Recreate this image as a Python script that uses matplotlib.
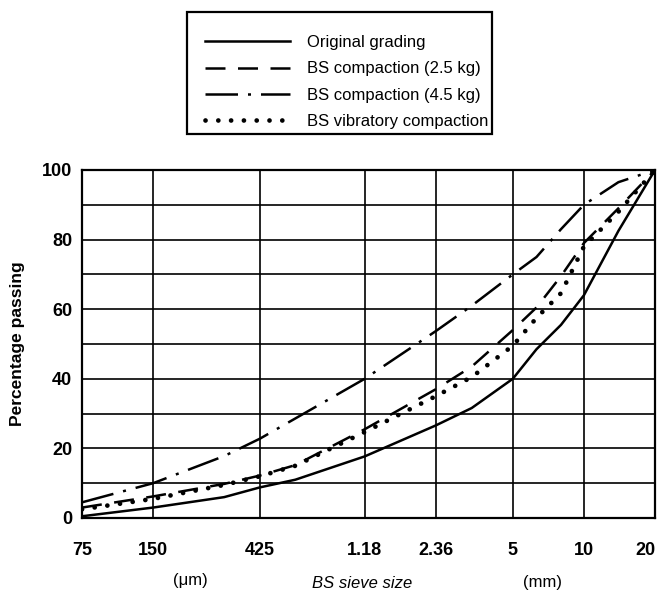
"""BS sieve grading curves: original vs. after compaction."""

import matplotlib
matplotlib.use("Agg")
import matplotlib.pyplot as plt
from matplotlib.patches import Rectangle

plt.rcParams['font.family'] = ['Liberation Sans', 'DejaVu Sans']

# sieve sizes in mm (75 um .. 20 mm), with a few intermediate readings
sieve_mm = [0.075, 0.15, 0.3, 0.425, 0.6, 1.18, 2.36, 3.35, 5.0, 6.3, 8.0, 10.0, 14.0, 20.0]
tick_mm = [0.075, 0.15, 0.425, 1.18, 2.36, 5.0, 10.0, 20.0]
tick_labels = ['75', '150', '425', '1.18', '2.36', '5', '10', '20']

# percentage passing
original = [0.5, 3.0, 6.0, 8.8, 11.0, 17.7, 26.6, 31.6, 40.0, 48.5, 55.5, 64.0, 82.5, 100.0]
bs_25kg = [3.0, 6.2, 9.8, 12.2, 15.2, 25.5, 37.0, 43.5, 54.0, 60.5, 69.5, 79.0, 89.0, 100.0]
bs_45kg = [4.5, 10.0, 17.8, 22.8, 28.6, 40.0, 53.7, 61.0, 70.0, 75.0, 83.0, 90.0, 96.5, 100.0]
bs_vib = [2.5, 5.5, 9.5, 12.0, 15.0, 24.7, 35.0, 40.5, 49.5, 57.5, 64.6, 78.0, 88.0, 100.0]

fig = plt.figure(figsize=(6.58, 5.94), dpi=100)
ax = fig.add_axes([82 / 658, 1 - 518 / 594, 573 / 658, 348 / 594])

ax.plot(sieve_mm, original, color='black', lw=1.8, label='Original grading')
ax.plot(sieve_mm, bs_25kg, color='black', lw=1.8, linestyle=(0, (8, 5)),
        label='BS compaction (2.5 kg)')
ax.plot(sieve_mm, bs_45kg, color='black', lw=1.8, linestyle=(0, (13, 4, 1.2, 4)),
        label='BS compaction (4.5 kg)')
ax.plot(sieve_mm, bs_vib, color='black', lw=3.4, linestyle=(0, (0.01, 2.7)),
        dash_capstyle='round', label='BS vibratory compaction')

ax.set_xscale('log')
ax.set_xlim(0.075, 20)
ax.set_ylim(0, 100)
ax.set_xticks(tick_mm)
ax.set_xticklabels(tick_labels)
ax.xaxis.set_minor_locator(matplotlib.ticker.NullLocator())
ax.set_yticks(range(0, 101, 20))
ax.set_yticks(range(0, 101, 10), minor=True)
ax.grid(True, which='both', color='black', lw=1.2)
ax.tick_params(which='both', length=0)
ax.tick_params(axis='x', pad=17, labelsize=13)
ax.tick_params(axis='y', pad=7, labelsize=13)
for lbl in ax.get_xticklabels() + ax.get_yticklabels():
    lbl.set_fontweight('bold')
ax.get_xticklabels()[-1].set_horizontalalignment('right')
for sp in ax.spines.values():
    sp.set_linewidth(1.6)

ax.set_ylabel('Percentage passing', fontsize=12.5, fontweight='bold', labelpad=12)
fig.text(190 / 658, 1 - 581 / 594, '(\u03bcm)', ha='center', va='center', fontsize=12)
fig.text(362 / 658, 1 - 584 / 594, 'BS sieve size', ha='center', va='center',
         fontsize=12, style='italic')
fig.text(542 / 658, 1 - 582 / 594, '(mm)', ha='center', va='center', fontsize=12)

# legend box drawn separately (extra space above first entry, as in the original)
fig.patches.append(Rectangle((187 / 658, 1 - 134 / 594), 305 / 658, 122 / 594,
                             transform=fig.transFigure, fill=False,
                             edgecolor='black', lw=1.6))
fig.legend(loc='upper left', bbox_to_anchor=(205 / 658, 1 - 35 / 594),
           borderaxespad=0, borderpad=0, fontsize=12, handlelength=5.1,
           handletextpad=1.0, labelspacing=0.68, frameon=False)

plt.savefig('out.png', dpi=100)
